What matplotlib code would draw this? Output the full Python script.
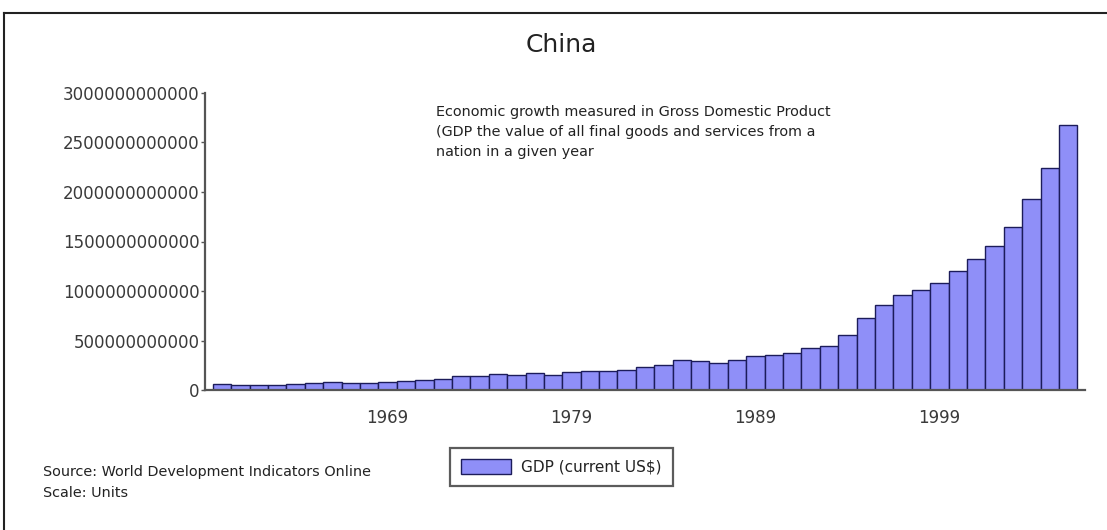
import matplotlib
matplotlib.use("Agg")
import matplotlib.pyplot as plt
from matplotlib.lines import Line2D
from matplotlib.ticker import FixedLocator, FuncFormatter

years = list(range(1960, 2007))
gdp_billion = [61, 50, 47, 50, 60, 70, 76, 72, 70, 79,
               91, 98, 112, 137, 142, 163, 150, 170, 148, 177,
               187, 193, 200, 229, 254, 298, 294, 270, 300, 347,
               355, 375, 425, 440, 557, 730, 858, 958, 1012, 1084,
               1200, 1324, 1450, 1648, 1934, 2245, 2675]
gdp = [v * 1e9 for v in gdp_billion]

yticks = [0, 500e9, 1000e9, 1500e9, 2000e9, 2500e9, 3000e9]
xtick_labels = ["1969", "1979", "1989", "1999"]

title = "China"
note = ("Economic growth measured in Gross Domestic Product\n"
        "(GDP the value of all final goods and services from a\n"
        "nation in a given year")
legend_label = "GDP (current US$)"
source = "Source: World Development Indicators Online"
scale = "Scale: Units"

plt.rcParams['font.family'] = ['DejaVu Sans']

W, H = 1107, 530
fig = plt.figure(figsize=(W / 100, H / 100), dpi=100)
fig.patch.set_facecolor("white")

def fx(px):
    return px / W

def fy(py):
    return 1 - py / H

ax = fig.add_axes([fx(205), fy(390), fx(1085) - fx(205), fy(93) - fy(390)])
idx = list(range(len(years)))
bars = ax.bar(idx, gdp, width=1.0, color="#8f8ff8", edgecolor="#1c1c5a",
              linewidth=1.0, label=legend_label, zorder=2)

ax.set_xlim(-0.92, len(years) - 0.09)
ax.set_ylim(0, 3e12)

for s in ["top", "right"]:
    ax.spines[s].set_visible(False)
for s in ["left", "bottom"]:
    ax.spines[s].set_color("#555555")
    ax.spines[s].set_linewidth(1.6)

ax.yaxis.set_major_locator(FixedLocator(yticks))
ax.yaxis.set_major_formatter(FuncFormatter(lambda v, p: "%d" % int(round(v))))
ax.tick_params(axis="y", length=3, width=1, color="#555555", pad=1,
               labelsize=12, labelcolor="#3a3a3a")

xpos = [years.index(int(t)) for t in xtick_labels]
ax.set_xticks(xpos)
ax.set_xticklabels(xtick_labels)
ax.tick_params(axis="x", length=0, pad=14, labelsize=12, labelcolor="#3a3a3a")

fig.text(fx(561), fy(45), title, ha="center", va="center", fontsize=18, color="#222222")
fig.text(fx(436), fy(105), note, ha="left", va="top", fontsize=10.4,
         color="#222222", linespacing=1.55, transform=fig.transFigure)
fig.text(fx(43), fy(472), source, ha="left", va="center", fontsize=10.4, color="#222222")
fig.text(fx(43), fy(493), scale, ha="left", va="center", fontsize=10.4, color="#222222")

leg = fig.legend(handles=[bars], labels=[legend_label], loc="center",
                 bbox_to_anchor=(fx(561), fy(467)), frameon=True, fancybox=False,
                 fontsize=11, handlelength=3.3, handleheight=1.1, handletextpad=0.6,
                 borderpad=0.75, edgecolor="#333333", borderaxespad=0)
leg.get_frame().set_linewidth(1.6)
for t in leg.get_texts():
    t.set_color("#222222")

# outer frame
fig.add_artist(Line2D([fx(4), 1.0], [fy(13), fy(13)], color="#222222", lw=1.5,
                      transform=fig.transFigure))
fig.add_artist(Line2D([fx(4), fx(4)], [fy(13), 0.0], color="#222222", lw=1.5,
                      transform=fig.transFigure))

fig.savefig("out.png", dpi=100, facecolor="white")
